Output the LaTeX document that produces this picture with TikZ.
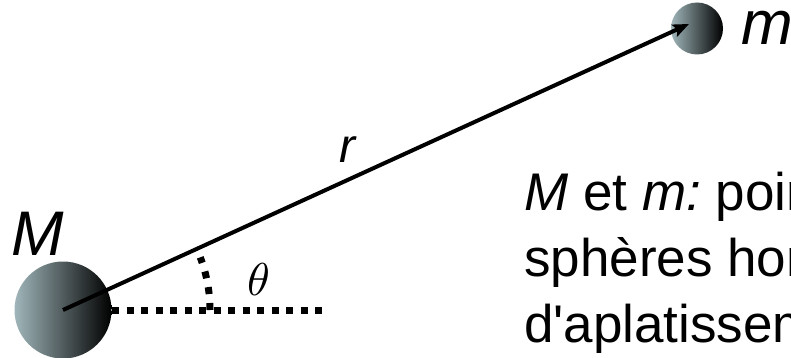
\documentclass[tikz,border=0pt]{standalone}
\usepackage{fontspec}
\setmainfont{Liberation Sans}[Ligatures=TeXOff]
\usetikzlibrary{arrows.meta,calc}
\definecolor{sphlight}{RGB}{160,182,186}
\tikzset{
  sphere/.style={circle, draw=none, inner sep=0pt, left color=sphlight, right color=black},
  vecline/.style={line width=4pt, -{Stealth[length=16pt,width=13pt,inset=3pt]}},
  dotline/.style={line width=7pt, dash pattern=on 7pt off 7.5pt},
  lbl/.style={inner sep=0pt, anchor=base west},
  bodytext/.style={inner sep=0pt, anchor=base west, font=\fontsize{53}{66}\selectfont\frenchspacing}
}
\begin{document}
\begin{tikzpicture}[x=1pt,y=-1pt]
\useasboundingbox (0,0) rectangle (791,358);
\clip (0,0) rectangle (791,358);
% spheres
\node[sphere, minimum size=97pt] (M) at (63,310) {};
\node[sphere, minimum size=52pt] (m) at (697,28.5) {};
% vector r
\coordinate (tip) at (689,24);
\draw[vecline] (M.center) -- (tip);
% dotted reference line and angle arc
\coordinate (hs) at (112,310);
\coordinate (he) at (327,310);
\draw[dotline] (hs) -- (he);
\coordinate (as) at (210,310);
\draw[line width=7pt, dash pattern=on 7pt off 9pt] (as) arc[start angle=0, end angle=21, radius=147pt];
% labels
\node[lbl, font=\fontsize{63}{63}\selectfont\itshape] (Ml) at (11,255) {M};
\node[lbl, font=\fontsize{62}{62}\selectfont\itshape] (ml) at (741,45) {m};
\node[lbl, font=\fontsize{48}{48}\selectfont\itshape] (rl) at (339,163) {r};
\node[lbl] (th) at (247,295) {\scalebox{4.6}{$\theta$}};
% description
\node[bodytext] (t1) at (524,210) {\textit{M} et \textit{m:} points ou};
\node[bodytext] (t2) at (524,276) {sphères homogènes};
\node[bodytext] (t3) at (524,342) {d'aplatissement};
\end{tikzpicture}
\end{document}
